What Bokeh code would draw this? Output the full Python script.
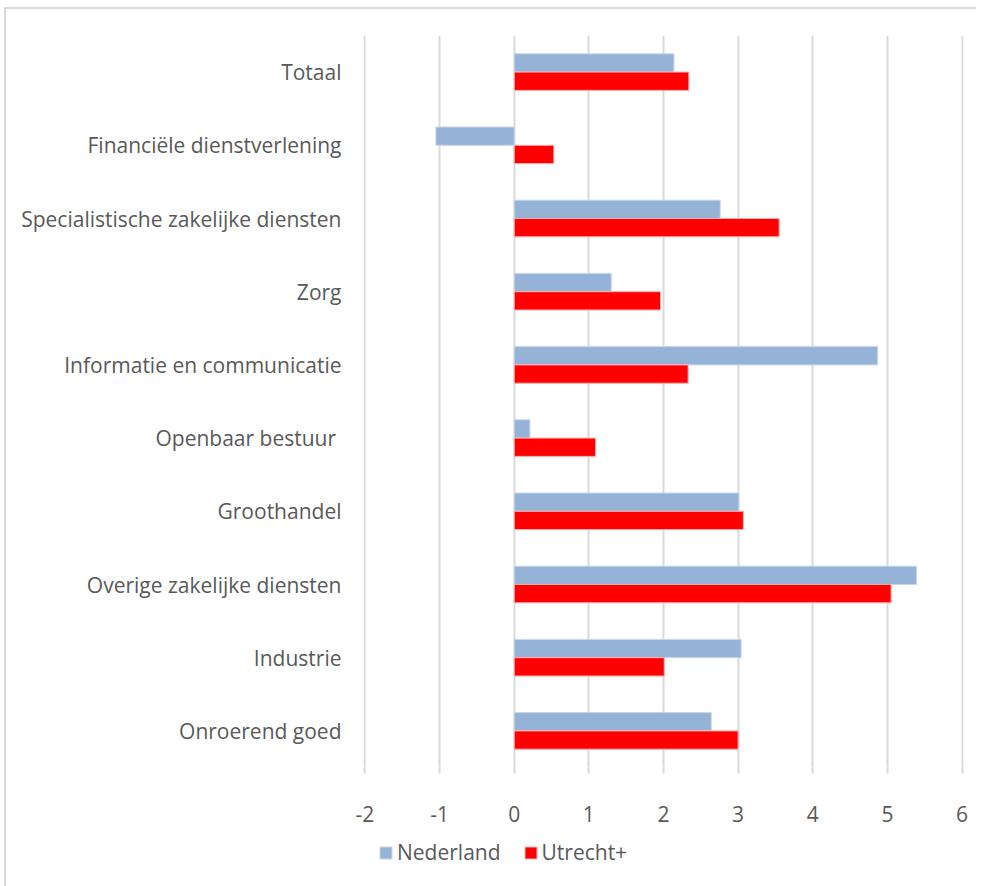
from bokeh.plotting import figure
from bokeh.layouts import column
from bokeh.models import (ColumnDataSource, FactorRange, Legend, LegendItem, FixedTicker,
                          PrintfTickFormatter, Range1d)
from bokeh.transform import dodge
from bokeh.embed import file_html
from bokeh.resources import INLINE

categories = ["Totaal", "Financiële dienstverlening", "Specialistische zakelijke diensten",
              "Zorg", "Informatie en communicatie", "Openbaar bestuur ", "Groothandel",
              "Overige zakelijke diensten", "Industrie", "Onroerend goed"]
nederland = [2.14, -1.05, 2.76, 1.30, 4.87, 0.21, 3.01, 5.39, 3.04, 2.64]
utrecht = [2.34, 0.53, 3.55, 1.96, 2.33, 1.09, 3.07, 5.05, 2.01, 3.00]
x_ticks = [-2, -1, 0, 1, 2, 3, 4, 5, 6]
series_names = ["Nederland", "Utrecht+"]
series_colors = ["#95b3d7", "#ff0000"]
series_lines = ["#c8d6ea", "#ffb0b0"]

src = ColumnDataSource(dict(cat=categories, nl=nederland, ut=utrecht))

FONT = "Open Sans"
GRAY = "#595959"
FS = "21px"

p = figure(width=976, height=830, output_backend="svg", toolbar_location=None,
           y_range=FactorRange(*reversed(categories), range_padding=0),
           x_range=Range1d(-2.02, 6.02),
           min_border_left=363, min_border_right=13, min_border_top=35, min_border_bottom=63)
p.outline_line_color = None
p.border_fill_color = None
p.background_fill_color = None

p.hbar(y=dodge("cat", 0.125, range=p.y_range), right="nl", left=0, height=0.25,
       source=src, fill_color=series_colors[0], line_color=series_lines[0], line_width=1)
p.hbar(y=dodge("cat", -0.125, range=p.y_range), right="ut", left=0, height=0.25,
       source=src, fill_color=series_colors[1], line_color=series_lines[1], line_width=1)

p.xaxis.ticker = FixedTicker(ticks=x_ticks)
p.xaxis.formatter = PrintfTickFormatter(format="%d")
p.xgrid.ticker = FixedTicker(ticks=x_ticks)
p.xgrid.grid_line_color = "#d9d9d9"
p.xgrid.grid_line_width = 2
p.ygrid.grid_line_color = None

p.xaxis.axis_line_color = None
p.xaxis.major_tick_line_color = "#d9d9d9"
p.xaxis.major_tick_line_width = 2
p.xaxis.major_tick_out = 6
p.xaxis.major_tick_in = 0
p.xaxis.minor_tick_line_color = None
p.xaxis.major_label_standoff = 32
p.xaxis.major_label_text_font = FONT
p.xaxis.major_label_text_font_size = FS
p.xaxis.major_label_text_color = GRAY

p.yaxis.axis_line_color = None
p.yaxis.major_tick_line_color = None
p.yaxis.major_tick_out = 0
p.yaxis.major_tick_in = 0
p.yaxis.minor_tick_line_color = None
p.yaxis.major_label_standoff = 22
p.yaxis.major_label_text_font = FONT
p.yaxis.major_label_text_font_size = FS
p.yaxis.major_label_text_color = GRAY

# legend strip below the chart (its frame is aligned with the main frame)
lg = figure(width=976, height=56, output_backend="svg", toolbar_location=None,
            x_range=Range1d(0, 1), y_range=Range1d(0, 1),
            min_border_left=363, min_border_right=13, min_border_top=0, min_border_bottom=0)
lg.axis.visible = False
lg.grid.visible = False
lg.outline_line_color = None
lg.border_fill_color = None
lg.background_fill_color = None
items = []
for name, fc, lc in zip(series_names, series_colors, series_lines):
    r = lg.quad(left=[-10], right=[-9], bottom=[-10], top=[-9], fill_color=fc, line_color=lc)
    items.append(LegendItem(label=name, renderers=[r]))
legend = Legend(items=items, orientation="horizontal", location=(15, 20),
                label_text_font=FONT, label_text_font_size=FS,
                label_text_color=GRAY, glyph_width=15, glyph_height=15,
                spacing=22, label_standoff=4, padding=0, margin=0,
                border_line_color=None, background_fill_alpha=0)
lg.add_layout(legend, "center")

layout = column(p, lg, spacing=0, styles={
    "background": "linear-gradient(#d9d9d9,#d9d9d9) 4px 7px / 2px 100% no-repeat, "
                  "linear-gradient(#d9d9d9,#d9d9d9) 4px 7px / 100% 2px no-repeat"})

open("out.html", "w").write(file_html(layout, INLINE))
